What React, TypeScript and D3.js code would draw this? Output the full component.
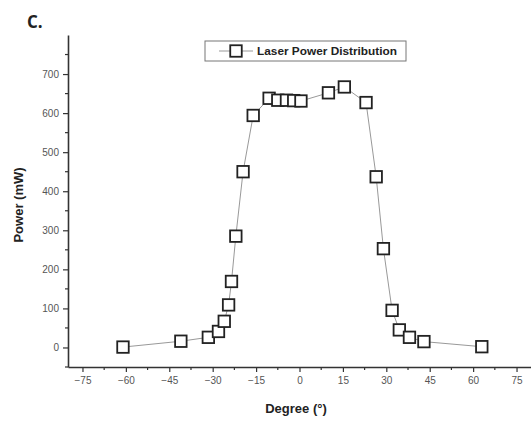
import React, { useEffect, useRef } from 'react';
import * as d3 from 'd3';

// measured angle (deg) and laser power (mW)
const degrees = [-61, -41, -31.5, -28, -26, -24.5, -23.5, -22, -19.5, -16, -10.5, -7.5, -4.5, -2, 0.5, 10, 15.5, 23, 26.5, 29, 32, 34.5, 38, 43, 63];
const power = [1, 16, 26, 41, 67, 109, 169, 285, 450, 594, 638, 633, 633, 632, 631, 652, 667, 627, 437, 253, 95, 45, 26, 15, 2];

const xTicks = [-75, -60, -45, -30, -15, 0, 15, 30, 45, 60, 75];
const yTicks = [0, 100, 200, 300, 400, 500, 600, 700];
const seriesName = 'Laser Power Distribution';

const App = () => {
    const svgRef = useRef<SVGSVGElement>(null);

    useEffect(() => {
        const width = 531;
        const height = 423;
        const svg = d3.select(svgRef.current);
        svg.selectAll('*').remove();

        const x = d3.scaleLinear().domain([-80, 80]).range([68, 531]);
        const y = d3.scaleLinear().domain([-50, 800]).range([367, 35]);

        const axisColor = '#333';
        const labelFont = '"Liberation Sans", Arial, sans-serif';

        // x axis
        const xAxis = svg.append('g')
            .attr('transform', `translate(0, ${y(-50)})`)
            .call(d3.axisBottom(x).tickValues(xTicks).tickSize(5).tickSizeOuter(0).tickPadding(5));
        xAxis.select('.domain').attr('stroke', axisColor).attr('stroke-width', 1.6);
        xAxis.selectAll('.tick line').attr('stroke', axisColor).attr('stroke-width', 1.2);
        xAxis.selectAll('.tick text')
            .attr('fill', '#555')
            .style('font-family', labelFont)
            .style('font-size', '10px');
        // minor x ticks
        xAxis.selectAll('.minor')
            .data(xTicks.slice(0, -1).map(d => d + 7.5))
            .enter()
            .append('line')
            .attr('class', 'minor')
            .attr('x1', d => x(d))
            .attr('x2', d => x(d))
            .attr('y1', 0)
            .attr('y2', 3)
            .attr('stroke', axisColor)
            .attr('stroke-width', 1.2);

        // y axis
        const yAxis = svg.append('g')
            .attr('transform', `translate(${x(-80)}, 0)`)
            .call(d3.axisLeft(y).tickValues(yTicks).tickSize(5).tickSizeOuter(0).tickPadding(4));
        yAxis.select('.domain').attr('stroke', axisColor).attr('stroke-width', 1.6);
        yAxis.selectAll('.tick line').attr('stroke', axisColor).attr('stroke-width', 1.2);
        yAxis.selectAll('.tick text')
            .attr('fill', '#555')
            .style('font-family', labelFont)
            .style('font-size', '10px');
        yAxis.selectAll('.minor')
            .data([-50, ...yTicks.map(d => d + 50)])
            .enter()
            .append('line')
            .attr('class', 'minor')
            .attr('x1', 0)
            .attr('x2', -3)
            .attr('y1', d => y(d))
            .attr('y2', d => y(d))
            .attr('stroke', axisColor)
            .attr('stroke-width', 1.2);

        // connecting line
        const points = degrees.map((d, i) => [d, power[i]] as [number, number]);
        const line = d3.line<[number, number]>()
            .x(d => x(d[0]))
            .y(d => y(d[1]));
        svg.append('path')
            .datum(points)
            .attr('d', line)
            .attr('fill', 'none')
            .attr('stroke', '#999')
            .attr('stroke-width', 1);

        // hollow square markers
        const s = 11.5;
        svg.selectAll('.pt')
            .data(points)
            .enter()
            .append('rect')
            .attr('class', 'pt')
            .attr('x', d => x(d[0]) - s / 2)
            .attr('y', d => y(d[1]) - s / 2)
            .attr('width', s)
            .attr('height', s)
            .attr('fill', 'white')
            .attr('stroke', '#222')
            .attr('stroke-width', 1.8);

        // legend
        const lg = svg.append('g').attr('transform', 'translate(205, 41)');
        lg.append('rect')
            .attr('width', 201)
            .attr('height', 20)
            .attr('fill', 'white')
            .attr('stroke', '#777')
            .attr('stroke-width', 1);
        lg.append('line')
            .attr('x1', 14).attr('x2', 48)
            .attr('y1', 10).attr('y2', 10)
            .attr('stroke', '#999')
            .attr('stroke-width', 1);
        lg.append('rect')
            .attr('x', 31 - s / 2)
            .attr('y', 10 - s / 2)
            .attr('width', s)
            .attr('height', s)
            .attr('fill', 'white')
            .attr('stroke', '#222')
            .attr('stroke-width', 1.8);
        lg.append('text')
            .attr('x', 52)
            .attr('y', 14)
            .attr('textLength', 140)
            .attr('lengthAdjust', 'spacingAndGlyphs')
            .attr('fill', '#222')
            .style('font-family', '"Liberation Sans Narrow", "Liberation Sans", Arial, sans-serif')
            .style('font-weight', 'bold')
            .style('font-size', '11px')
            .text(seriesName);

        // axis titles
        svg.append('text')
            .attr('x', 296)
            .attr('y', 413)
            .attr('text-anchor', 'middle')
            .attr('fill', '#222')
            .style('font-family', labelFont)
            .style('font-weight', 'bold')
            .style('font-size', '13px')
            .text('Degree (°)');
        svg.append('text')
            .attr('transform', 'translate(23, 205) rotate(-90)')
            .attr('text-anchor', 'middle')
            .attr('fill', '#222')
            .style('font-family', labelFont)
            .style('font-weight', 'bold')
            .style('font-size', '13px')
            .text('Power (mW)');

        // panel letter
        svg.append('text')
            .attr('x', 27)
            .attr('y', 28)
            .attr('fill', '#222')
            .style('font-family', '"Open Sans", "Liberation Sans", sans-serif')
            .style('font-weight', 'bold')
            .style('font-size', '17px')
            .text('C.');

        svg.attr('width', width).attr('height', height);
    }, []);

    return (
        <div style={{ position: 'absolute', left: 0, top: 0, background: 'white' }}>
            <svg ref={svgRef} width={531} height={423} style={{ display: 'block' }}></svg>
        </div>
    );
};

export default App;
